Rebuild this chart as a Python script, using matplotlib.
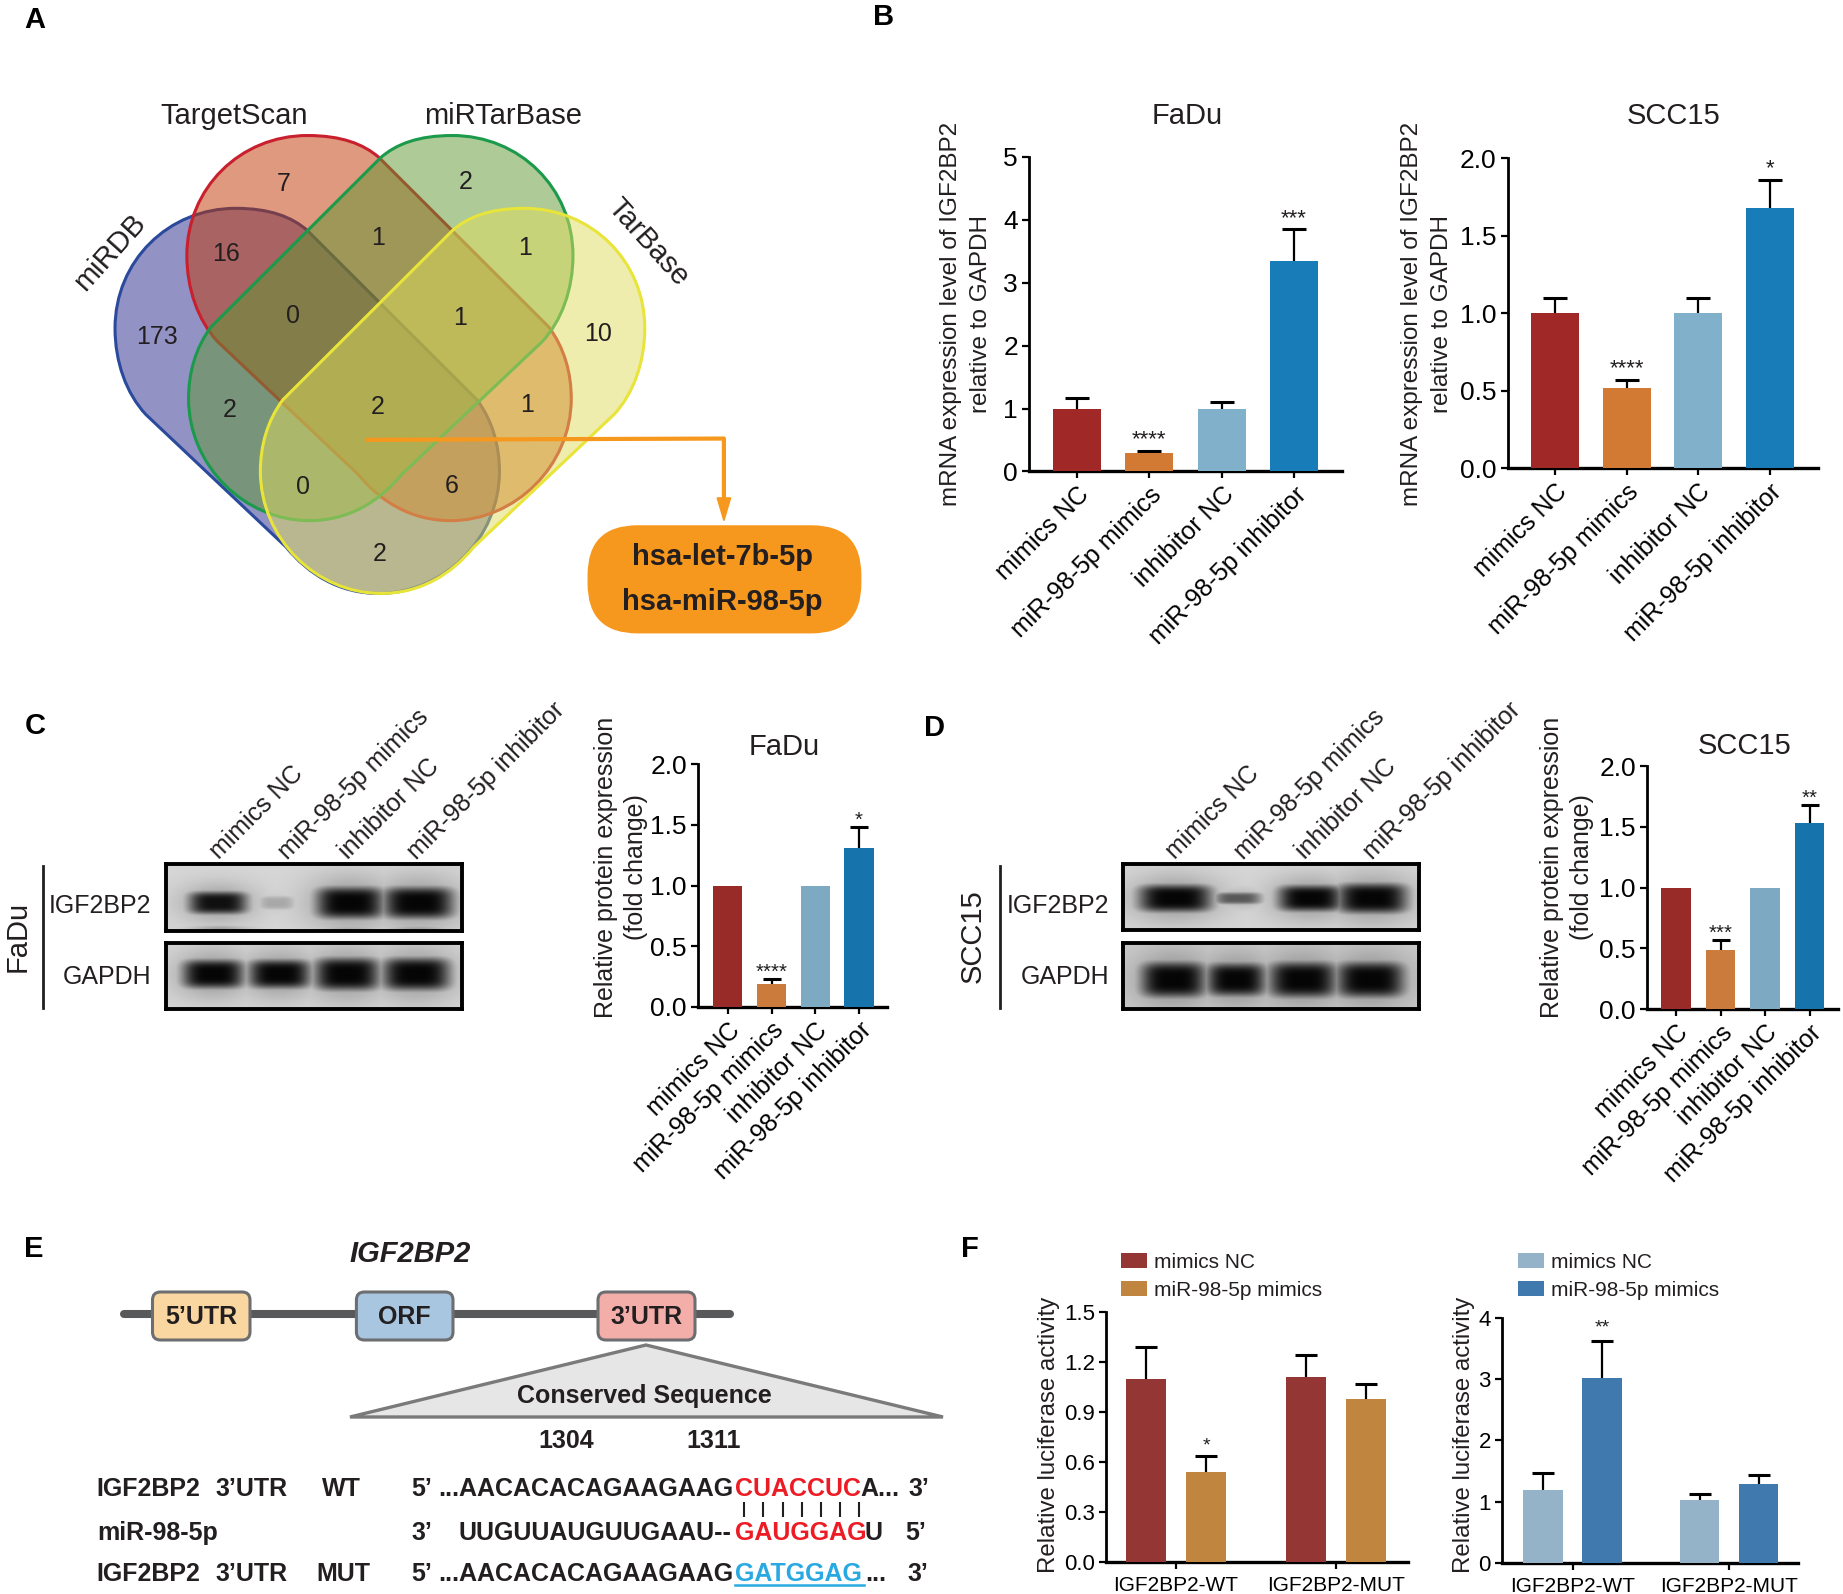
import numpy as np
import matplotlib
matplotlib.use("Agg")
import matplotlib.pyplot as plt
from matplotlib.patches import PathPatch, FancyBboxPatch, Polygon
from matplotlib.path import Path

plt.rcParams['font.family'] = ['Liberation Sans', 'DejaVu Sans']
plt.rcParams['text.color'] = '#231F20'
plt.rcParams['axes.labelcolor'] = '#231F20'

W, H = 1843, 1594

# categories
groups = ['mimics NC', 'miR-98-5p mimics', 'inhibitor NC', 'miR-98-5p inhibitor']
luc_groups = ['IGF2BP2-WT', 'IGF2BP2-MUT']

# panel B
fadu_mrna = [1.0, 0.30, 1.0, 3.35]
fadu_mrna_err = [0.17, 0.03, 0.10, 0.50]
fadu_mrna_sig = ['', '****', '', '***']
scc_mrna = [1.0, 0.52, 1.0, 1.68]
scc_mrna_err = [0.10, 0.05, 0.10, 0.18]
scc_mrna_sig = ['', '****', '', '*']

# panels C and D
fadu_prot = [1.0, 0.19, 1.0, 1.31]
fadu_prot_err = [0, 0.04, 0, 0.17]
fadu_prot_sig = ['', '****', '', '*']
scc_prot = [1.0, 0.49, 1.0, 1.53]
scc_prot_err = [0, 0.08, 0, 0.15]
scc_prot_sig = ['', '***', '', '**']

# panel F
luc_nc = [1.10, 1.11]
luc_nc_err = [0.19, 0.13]
luc_mim = [0.54, 0.98]
luc_mim_err = [0.095, 0.09]
luc2_nc = [1.19, 1.03]
luc2_nc_err = [0.27, 0.10]
luc2_mim = [3.02, 1.28]
luc2_mim_err = [0.60, 0.16]

# venn numbers, in crop coordinates of the drawing
venn_counts = ['7', '2', '16', '1', '1', '0', '1', '173', '10', '2', '2', '1', '0', '6', '2']
venn_x = [505, 830, 403, 673, 935, 523, 820, 280, 1065, 410, 673, 940, 540, 805, 677]
venn_y = [432, 428, 598, 560, 585, 747, 752, 795, 790, 970, 962, 958, 1152, 1150, 1312]

# blot lanes: centre, half width, strength, half height
fadu_igf = [(.174, .10, .95, .17), (.372, .06, .22, .10), (.62, .115, 1.0, .24), (.851, .12, 1.0, .24)]
fadu_gapdh = [(.158, .105, 1, .22), (.382, .105, 1, .22), (.61, .11, 1, .25), (.844, .115, 1, .25)]
scc_igf = [(.175, .125, 1, .21), (.388, .08, .6, .09), (.633, .11, 1, .2), (.843, .12, 1, .23)]
scc_gapdh = [(.169, .11, 1, .27), (.382, .10, 1, .25), (.608, .115, 1, .27), (.837, .115, 1, .27)]

main_colors = ['#A02826', '#D27A33', '#81B1CA', '#187CB8']
prot_colors = ['#982A28', '#CB7B3B', '#7DAAC2', '#1673AC']

fig = plt.figure(figsize=(W / 100, H / 100), dpi=100, facecolor='white')
canvas = fig.add_axes([0, 0, 1, 1], zorder=0)
canvas.set_xlim(0, W)
canvas.set_ylim(H, 0)
canvas.axis('off')


def put(x, y, s, size=18, **kw):
    kw.setdefault('ha', 'center')
    kw.setdefault('va', 'center')
    if 'rotation' not in kw:
        y = y + 2
    return canvas.text(x, y, s, fontsize=size, **kw)


def px_axes(x0, x1, ytop, y0):
    return fig.add_axes([x0 / W, 1 - y0 / H, (x1 - x0) / W, (y0 - ytop) / H], zorder=2, facecolor='none')


def style_axes(ax, yticks, yfmt, tick_size):
    for s in ['top', 'right']:
        ax.spines[s].set_visible(False)
    ax.spines['left'].set_linewidth(2)
    ax.spines['bottom'].set_linewidth(2.4)
    ax.set_yticks(yticks)
    ax.set_yticklabels([yfmt % t for t in yticks], fontsize=tick_size)
    ax.tick_params(axis='both', width=1.6, length=5, pad=3)


def upper_err(ax, x, v, e, cap):
    # only the upper whisker, the lower cap would show on the bar top
    eb = ax.errorbar(x, v, yerr=[[0], [e]], color='black', capsize=cap, capthick=2.2, elinewidth=1.6, zorder=2)
    eb[1][0].set_visible(False)


def bar_panel(rect, xc0, dx, vals, errs, sig, colors, ymax, yticks, yfmt, bar_w, cap,
              star_size, star_off, ylab, ylab_xy, ylab_size, lspace, tick_size, lab_size):
    x0, x1, ytop, y0 = rect
    ax = px_axes(x0, x1, ytop, y0)
    ax.set_xlim((x0 - xc0) / dx, (x1 - xc0) / dx)
    ax.set_ylim(0, ymax)
    pos = np.arange(len(vals))
    ax.bar(pos, vals, width=bar_w / dx, color=colors, zorder=3)
    for p, v, e, s in zip(pos, vals, errs, sig):
        if e > 0:
            upper_err(ax, p, v, e, cap)
        if s:
            ax.annotate(s, (p, v + e), xytext=(0, star_off), textcoords='offset points',
                        ha='center', va='baseline', fontsize=star_size)
    style_axes(ax, yticks, yfmt, tick_size)
    ax.set_xticks(pos)
    ax.set_xticklabels(groups, rotation=45, ha='right', rotation_mode='anchor', fontsize=lab_size)
    ax.set_ylabel(ylab, fontsize=ylab_size, va='center', ha='center', linespacing=lspace)
    ax.yaxis.set_label_coords(ylab_xy[0], ylab_xy[1], transform=canvas.transData)
    return ax


def blot(x0, x1, y0, y1, lanes, cy, base=0.84, extra=None):
    yy, xx = np.mgrid[0:1:120j, 0:1:300j]
    img = np.full(yy.shape, base)
    dark = np.zeros(yy.shape)
    for c, hw, st, hh in lanes:
        dark = np.maximum(dark, st * np.exp(-((xx - c) / hw) ** 4 - ((yy - cy) / hh) ** 4))
        halo = 0.3 * st * np.exp(-((xx - c) / (hw * 1.25)) ** 2 - ((yy - cy) / (hh * 1.7)) ** 2)
        dark = np.maximum(dark, halo)
    if extra:
        for c, hw, st, yc in extra:
            dark = np.maximum(dark, st * np.exp(-((xx - c) / hw) ** 2 - ((yy - yc) / .05) ** 2))
    ax = fig.add_axes([x0 / W, 1 - y1 / H, (x1 - x0) / W, (y1 - y0) / H], zorder=2)
    ax.imshow(img * (1 - dark) + 0.02 * dark, cmap='gray', vmin=0, vmax=1, aspect='auto')
    ax.set_xticks([])
    ax.set_yticks([])
    for s in ax.spines.values():
        s.set_linewidth(2.8)


# panel letters
for lx, ly, letter in [(35, 18, 'A'), (884, 15, 'B'), (35, 724, 'C'), (934, 726, 'D'), (34, 1247, 'E'), (970, 1247, 'F')]:
    put(lx, ly, letter, size=21, fontweight='bold', color='black')

# ---- A: venn
SX, SY = 1 / 1.782, 1 / 2.376
blob = [(420, 495), (480, 495), (520, 515), (548, 548), (850, 950), (878, 1000), (890, 1060), (890, 1120),
        (890, 1280), (790, 1410), (675, 1410), (605, 1410), (550, 1365), (510, 1300), (260, 985),
        (225, 935), (205, 860), (205, 780), (205, 620), (300, 495), (420, 495)]
blob_codes = [Path.MOVETO, Path.CURVE4, Path.CURVE4, Path.CURVE4, Path.LINETO, Path.CURVE4, Path.CURVE4, Path.CURVE4,
              Path.CURVE4, Path.CURVE4, Path.CURVE4, Path.CURVE4, Path.CURVE4, Path.CURVE4, Path.LINETO,
              Path.CURVE4, Path.CURVE4, Path.CURVE4, Path.CURVE4, Path.CURVE4, Path.CURVE4]
blob = np.array(blob, dtype=float)


def venn_shape(shift, mirror, face, edge):
    pts = blob + shift
    if mirror:
        pts[:, 0] = 2 * 677 - pts[:, 0]
    pts = pts * [SX, SY]
    canvas.add_patch(PathPatch(Path(pts, blob_codes), facecolor=matplotlib.colors.to_rgba(face, 0.5),
                               edgecolor=edge, lw=2.2))


venn_shape((0, 0), False, '#27278D', '#2B4A9C')
venn_shape((128, -173), False, '#C13500', '#C8202E')
venn_shape((128, -173), True, '#5F9731', '#1B9A4B')
venn_shape((0, 0), True, '#DFDD5D', '#E8E43A')

for vx, vy, c in zip(venn_x, venn_y, venn_counts):
    put(vx * SX, vy * SY, c, size=18)
put(418 * SX, 270 * SY, 'TargetScan', size=21)
put(897 * SX, 270 * SY, 'miRTarBase', size=21)
put(195 * SX, 600 * SY, 'miRDB', size=21, rotation=48, rotation_mode='anchor')
put(1155 * SX, 575 * SY, 'TarBase', size=21, rotation=-48, rotation_mode='anchor')

orange = '#F7981E'
canvas.plot([655 * SX, 1290 * SX, 1290 * SX], [1045 * SY, 1042 * SY, 1190 * SY], color=orange, lw=3, zorder=4)
canvas.add_patch(Polygon([(1278 * SX, 1183 * SY), (1302 * SX, 1183 * SY), (1290 * SX, 1237 * SY)], color=orange, zorder=4))
canvas.add_patch(FancyBboxPatch((1047 * SX, 1248 * SY), (1535 - 1047) * SX, (1505 - 1248) * SY,
                                boxstyle='round,pad=0,rounding_size=50', facecolor=orange, edgecolor='none', zorder=3))
put(1287 * SX, 1318 * SY, 'hsa-let-7b-5p', size=21, fontweight='bold', zorder=5)
put(1287 * SX, 1425 * SY, 'hsa-miR-98-5p', size=21, fontweight='bold', zorder=5)

# ---- B
mrna_lab = 'mRNA expression level of IGF2BP2\nrelative to GAPDH'
bar_panel((1029, 1342, 157, 471.4), 1076.6, 72.5, fadu_mrna, fadu_mrna_err, fadu_mrna_sig, main_colors, 5,
          [0, 1, 2, 3, 4, 5], '%d', 48, 8.8, 16, 4, mrna_lab, (966, 314), 17.5, 1.42, 19, 18)
bar_panel((1507.7, 1818, 158, 468.4), 1555, 71.6, scc_mrna, scc_mrna_err, scc_mrna_sig, main_colors, 2,
          [0, .5, 1, 1.5, 2], '%.1f', 48, 8.8, 16, 4, mrna_lab, (1427, 314), 17.5, 1.42, 19, 18)
put(1187, 113.6, 'FaDu', size=21)
put(1674, 113.6, 'SCC15', size=21)

# ---- C and D
prot_lab = 'Relative protein expression\n(fold change)'
bar_panel((698, 887, 764, 1007), 727.7, 43.8, fadu_prot, fadu_prot_err, fadu_prot_sig, prot_colors, 2,
          [0, .5, 1, 1.5, 2], '%.1f', 29.5, 6.3, 14.7, 1, prot_lab, (621, 867), 18, 1.3, 19, 18)
bar_panel((1647, 1838, 766, 1009.3), 1676, 44.5, scc_prot, scc_prot_err, scc_prot_sig, prot_colors, 2,
          [0, .5, 1, 1.5, 2], '%.1f', 29.5, 6.3, 14.7, 1, prot_lab, (1567, 867), 18, 1.3, 19, 18)
put(784, 745, 'FaDu', size=21)
put(1745, 744, 'SCC15', size=21)

blot(165.5, 462, 864, 931, fadu_igf, .58, extra=[(.18, .1, .25, .97), (.62, .1, .2, .97), (.85, .1, .25, .97)])
blot(165.5, 462, 943, 1009, fadu_gapdh, .47)
blot(1123, 1418.5, 864, 930, scc_igf, .52)
blot(1123, 1418.5, 943, 1009, scc_gapdh, .555, base=.8)

for rx, ln, cell, cx, starts in [(151.4, 43, 'FaDu', 15, [223, 291, 352, 420]),
                                 (1109.5, 1000, 'SCC15', 970, [1179, 1247, 1309, 1376])]:
    put(rx, 904, 'IGF2BP2', size=18, ha='right')
    put(rx, 975, 'GAPDH', size=18, ha='right')
    canvas.plot([ln, ln], [866, 1008], color='#231F20', lw=2)
    put(cx + 3, 936, cell, size=21, rotation=90)
    for sx, g in zip(starts, groups):
        put(sx, 864, g, size=18, rotation=45, ha='left', va='bottom', rotation_mode='anchor')

# ---- E
put(410, 1252, 'IGF2BP2', size=21, fontweight='bold', style='italic')
canvas.plot([124, 730], [1314, 1314], color='#58595B', lw=5.8, solid_capstyle='round')
for bx0, bx1, col, name in [(152.5, 250, '#FAD7A0', "5\u2019UTR"), (356.4, 453, '#A9C6E0', 'ORF'), (598, 695, '#F4AEAA', "3\u2019UTR")]:
    canvas.add_patch(FancyBboxPatch((bx0, 1292), bx1 - bx0, 48, boxstyle='round,pad=0,rounding_size=8',
                                    facecolor=col, edgecolor='#6D6E71', lw=2.2, zorder=3))
    put((bx0 + bx1) / 2, 1315, name, size=18, fontweight='bold', zorder=4)
canvas.add_patch(Polygon([(646, 1345), (943, 1417), (350, 1417)], closed=True, facecolor='#E6E6E6', edgecolor='#7A7A7A', lw=2.4))
put(644, 1394, 'Conserved Sequence', size=18, fontweight='bold')
put(566.5, 1439, '1304', size=18, fontweight='bold')
put(713.4, 1439, '1311', size=18, fontweight='bold')

row_y = [1487, 1530.7, 1572]
seq_rows = [
    [(96.8, 'IGF2BP2', 'k'), (215.6, "3\u2019UTR", 'k'), (322, 'WT', 'k'), (411.5, "5\u2019", 'k'), (438, '...AACACACAGAAGAAG', 'k'),
     (735, 'CUACCUC', '#ED1C24'), (860, 'A...', 'k'), (908, "3\u2019", 'k')],
    [(96.8, 'miR-98-5p', 'k'), (411.5, "3\u2019", 'k'), (459, 'UUGUUAUGUUGAAU--', 'k'), (735, 'GAUGGAG', '#ED1C24'), (865, 'U', 'k'), (905, "5\u2019", 'k')],
    [(96.8, 'IGF2BP2', 'k'), (215.6, "3\u2019UTR", 'k'), (316, 'MUT', 'k'), (411.5, "5\u2019", 'k'), (438, '...AACACACAGAAGAAG', 'k'),
     (735, 'GATGGAG', '#29A9E1'), (865, '...', 'k'), (907, "3\u2019", 'k')],
]
for ry, row in zip(row_y, seq_rows):
    for sx, s, c in row:
        put(sx, ry, s, size=18, fontweight='bold', ha='left', color='#231F20' if c == 'k' else c)
canvas.plot([735, 864], [1585, 1585], color='#29A9E1', lw=1.8)
canvas.vlines([744, 763, 782.6, 801.6, 820.6, 839.6, 858.6], 1501.7, 1517.3, color='#231F20', lw=1.5)


# ---- F
def luc_panel(rect, xc0, dx, off, bar_w, nc, nc_err, mim, mim_err, cols, ymax, yticks, yfmt, star, star_off, leg_xy, lab_x):
    x0, x1, ytop, y0 = rect
    ax = px_axes(x0, x1, ytop, y0)
    ax.set_xlim((x0 - xc0) / dx, (x1 - xc0) / dx)
    ax.set_ylim(0, ymax)
    pos = np.arange(2)
    b1 = ax.bar(pos - off / dx, nc, width=bar_w / dx, color=cols[0], label='mimics NC', zorder=3)
    b2 = ax.bar(pos + off / dx, mim, width=bar_w / dx, color=cols[1], label='miR-98-5p mimics', zorder=3)
    for i in pos:
        upper_err(ax, i - off / dx, nc[i], nc_err[i], 8)
        upper_err(ax, i + off / dx, mim[i], mim_err[i], 8)
    ax.annotate(star, (0 + off / dx, mim[0] + mim_err[0]), xytext=(0, star_off), textcoords='offset points',
                ha='center', va='baseline', fontsize=14)
    style_axes(ax, yticks, yfmt, 16)
    ax.set_xticks(pos)
    ax.set_xticklabels(luc_groups, fontsize=15)
    ax.tick_params(axis='x', pad=5)
    ax.set_ylabel('Relative luciferase activity', fontsize=17.3, va='center', ha='center')
    ax.yaxis.set_label_coords(lab_x, 1435, transform=canvas.transData)
    ax.legend(handles=[b1, b2], loc='upper left', bbox_to_anchor=leg_xy, bbox_transform=canvas.transData, frameon=False,
              fontsize=15, handlelength=1.27, handleheight=0.72, handletextpad=0.32, labelspacing=0.42, borderpad=0, borderaxespad=0)
    return ax


luc_panel((1106, 1408, 1311.7, 1562.3), 1176, 160, 30, 39.4, luc_nc, luc_nc_err, luc_mim, luc_mim_err,
          ['#943634', '#C0853F'], 1.5, [0, .3, .6, .9, 1.2, 1.5], '%.1f', '*', 4, (1121, 1253), 1049)
luc_panel((1502, 1798, 1318, 1562.7), 1572.6, 156.4, 29.5, 39.4, luc2_nc, luc2_nc_err, luc2_mim, luc2_mim_err,
          ['#95B3C8', '#3F79AE'], 4, [0, 1, 2, 3, 4], '%d', '**', 6, (1518, 1253), 1464)

fig.savefig('out.png', dpi=100, facecolor='white')
